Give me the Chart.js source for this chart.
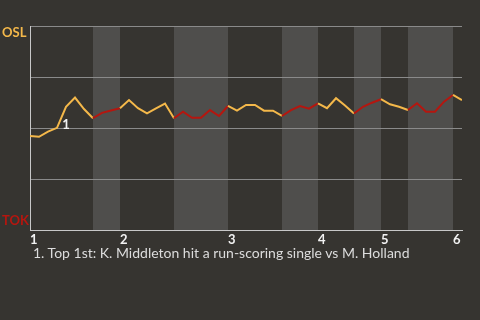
<!DOCTYPE html>
<html>
<head>
<meta charset="utf-8">
<script src="https://cdn.jsdelivr.net/npm/chart.js@4"></script>
<style>
  html, body { margin: 0; padding: 0; background: #363430; }
  #wrap { position: relative; width: 480px; height: 320px; }
  canvas { position: absolute; left: 0; top: 0; }
  #caption { position: absolute; left: 33px; top: 246px; font: 14px Lato, sans-serif; line-height: 1; color: #dcdcdc; white-space: nowrap; }
</style>
</head>
<body>
<div id="wrap">
  <canvas id="c" width="480" height="320"></canvas>
  <div id="caption"></div>
</div>
<script>
// ---- data ----
const innings = ['1', '2', '3', '4', '5', '6'];
const inningStartIdx = [0, 10, 22, 32, 39, 47];
const bottomHalfStartIdx = [7, 16, 28, 36, 42];
const bottomHalfEndIdx = [10, 22, 32, 39, 47];
const teamTop = 'OSL';
const teamBottom = 'TOK';
// OSL win probability after each plate appearance
const winProb = [
  0.461, 0.457, 0.482, 0.501, 0.604, 0.649, 0.593, 0.548, 0.574, 0.586,
  0.597, 0.637, 0.597, 0.572, 0.596, 0.620, 0.548, 0.580, 0.550, 0.550,
  0.588, 0.559, 0.608, 0.585, 0.613, 0.613, 0.585, 0.585, 0.559, 0.588,
  0.608, 0.595, 0.621, 0.597, 0.646, 0.610, 0.571, 0.604, 0.624, 0.641,
  0.616, 0.604, 0.588, 0.621, 0.580, 0.580, 0.629, 0.662, 0.637
];
const noteIdx = [4];
const noteLabel = ['1'];
const captions = ['1. Top 1st: K. Middleton hit a run-scoring single vs M. Holland'];

// ---- style ----
const YELLOW = '#f4b84a';
const RED = '#b5160f';
const BAND = '#4f4e4c';

document.getElementById('caption').textContent = captions.join('\n');

function inBottomHalf(i) {
  for (let k = 0; k < bottomHalfStartIdx.length; k++) {
    if (i >= bottomHalfStartIdx[k] && i < bottomHalfEndIdx[k]) return true;
  }
  return false;
}

const bandsPlugin = {
  id: 'bands',
  beforeDraw(chart) {
    const { ctx, chartArea, scales } = chart;
    ctx.save();
    ctx.fillStyle = BAND;
    for (let k = 0; k < bottomHalfStartIdx.length; k++) {
      const x0 = scales.x.getPixelForValue(bottomHalfStartIdx[k]);
      const x1 = scales.x.getPixelForValue(bottomHalfEndIdx[k]);
      ctx.fillRect(x0, chartArea.top, x1 - x0, chartArea.bottom - chartArea.top);
    }
    ctx.restore();
  },
  afterDatasetsDraw(chart) {
    const { ctx, scales } = chart;
    ctx.save();
    ctx.font = 'bold 13px Lato, sans-serif';
    ctx.textBaseline = 'middle';
    ctx.textAlign = 'left';
    ctx.fillStyle = YELLOW;
    ctx.fillText(teamTop, 2, scales.y.getPixelForValue(1) + 7);
    ctx.fillStyle = RED;
    ctx.fillText(teamBottom, 2, scales.y.getPixelForValue(0) - 9);
    ctx.font = 'bold 13px Lato, sans-serif';
    ctx.fillStyle = '#f2f2f2';
    ctx.textAlign = 'center';
    noteIdx.forEach((idx, n) => {
      const px = scales.x.getPixelForValue(idx);
      const py = scales.y.getPixelForValue(winProb[idx]);
      ctx.fillText(noteLabel[n], px, py + 18);
    });
    ctx.restore();
  }
};

new Chart(document.getElementById('c'), {
  type: 'line',
  data: {
    datasets: [{
      data: winProb.map((v, i) => ({ x: i, y: v })),
      borderWidth: 2,
      pointRadius: 0,
      tension: 0,
      borderColor: YELLOW,
      segment: {
        borderColor: (ctx) => inBottomHalf(ctx.p0DataIndex) ? RED : YELLOW
      }
    }]
  },
  options: {
    responsive: false,
    animation: false,
    devicePixelRatio: 1,
    layout: { padding: { top: 26, right: 18, left: 0, bottom: 0 } },
    plugins: { legend: { display: false }, tooltip: { enabled: false } },
    scales: {
      x: {
        type: 'linear',
        min: 0,
        max: winProb.length - 1,
        afterBuildTicks: (s) => { s.ticks = inningStartIdx.map(v => ({ value: v })); },
        afterFit: (s) => { s.height = 90; },
        grid: { drawOnChartArea: false, drawTicks: false },
        border: { display: true, color: '#c8c8c8', width: 1 },
        ticks: {
          align: 'start',
          autoSkip: false,
          maxRotation: 0,
          padding: 2,
          color: '#f2f2f2',
          font: { family: 'Lato', size: 13, weight: 'bold' },
          callback: (v) => innings[inningStartIdx.indexOf(v)]
        }
      },
      y: {
        min: 0,
        max: 1,
        afterFit: (s) => { s.width = 30; },
        ticks: { display: false, stepSize: 0.25 },
        grid: { color: '#8a8a8a', drawTicks: false, lineWidth: 1 },
        border: { display: true, color: '#c8c8c8', width: 1 }
      }
    }
  },
  plugins: [bandsPlugin]
});
</script>
</body>
</html>
